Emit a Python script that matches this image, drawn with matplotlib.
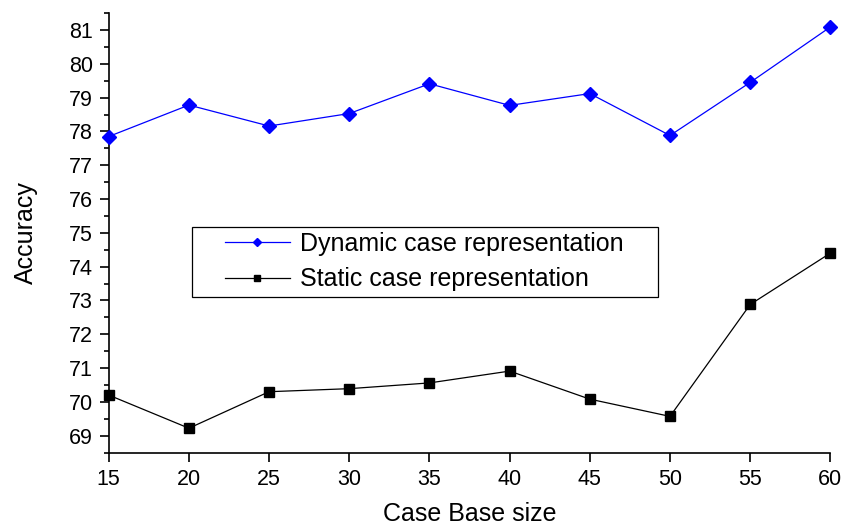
#! /usr/bin/env python3
# -*- coding: utf-8 -*-
"""accuracy vs case base size, dynamic vs static case representation"""

import matplotlib
matplotlib.use("Agg")
import matplotlib.pyplot as plt
from matplotlib.patches import Rectangle
from matplotlib.ticker import MultipleLocator

# -----------------------------------------------------------------------------

# data
case_base_size = [15, 20, 25, 30, 35, 40, 45, 50, 55, 60]
dynamic_acc    = [77.85, 78.78, 78.16, 78.53, 79.41, 78.77, 79.12, 77.88, 79.45, 81.09]
static_acc     = [70.20, 69.22, 70.30, 70.39, 70.56, 70.91, 70.08, 69.57, 72.88, 74.40]

x_ticks  = [15, 20, 25, 30, 35, 40, 45, 50, 55, 60]
y_ticks  = [69, 70, 71, 72, 73, 74, 75, 76, 77, 78, 79, 80, 81]

# -----------------------------------------------------------------------------

plt.rcParams['font.family'] = ['Liberation Sans', 'DejaVu Sans']

fig = plt.figure(figsize=(8.43, 5.25), dpi=100)
ax = fig.add_axes([0.129, 0.138, 0.856, 0.837])

ax.plot(case_base_size, dynamic_acc, color='#0000ff', lw=0.9, clip_on=False,
        marker='D', ms=7, label='Dynamic case representation', zorder=3)
ax.plot(case_base_size, static_acc, color='black', lw=0.9, clip_on=False,
        marker='s', ms=7.5, label='Static case representation', zorder=3)

ax.set_xlim(15, 60)
ax.set_ylim(68.5, 81.5)
ax.set_xticks(x_ticks)
ax.set_yticks(y_ticks)
ax.yaxis.set_minor_locator(MultipleLocator(0.5))

# only left and bottom spines, ticks pointing out
for side in ('top', 'right'):
    ax.spines[side].set_visible(False)
for side in ('left', 'bottom'):
    ax.spines[side].set_linewidth(1.2)
ax.tick_params(which='major', direction='out', length=6.5, width=1.2,
               labelsize=15.5, pad=5)
ax.tick_params(which='minor', direction='out', length=3.4, width=1.2)

ax.set_xlabel('Case Base size', fontsize=18, labelpad=9)
ax.set_ylabel('Accuracy', fontsize=18, labelpad=22)

# legend without its own frame, box drawn separately (wide side padding)
leg = ax.legend(loc='center', bbox_to_anchor=(0.437, 0.434),
                frameon=False, fontsize=18, handlelength=2.6,
                markerscale=0.65, borderpad=0.2, labelspacing=0.45,
                handletextpad=0.4)
leg.set_zorder(5)
ax.add_patch(Rectangle((0.1151, 0.354), 0.6463, 0.159, transform=ax.transAxes,
                       facecolor='white', edgecolor='black', lw=0.9,
                       zorder=4.5))

fig.savefig("out.png", dpi=100)
